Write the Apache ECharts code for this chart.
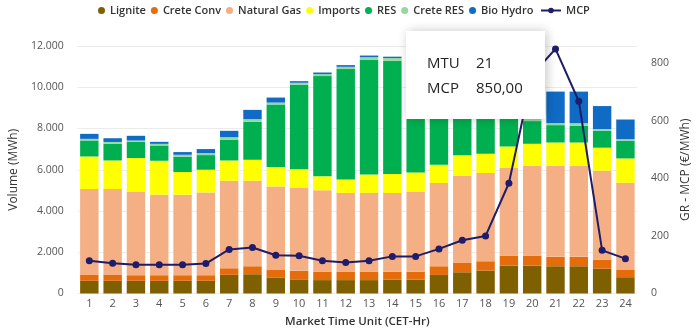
<!DOCTYPE html>
<html>
<head>
<meta charset="utf-8">
<script src="https://cdn.jsdelivr.net/npm/echarts@6/dist/echarts.min.js"></script>
<style>
html,body{margin:0;padding:0;background:#fff;}
#chart{width:700px;height:333px;}
</style>
</head>
<body>
<div id="chart"></div>
<script>
// ---- data ----
const categories = ['1','2','3','4','5','6','7','8','9','10','11','12','13','14','15','16','17','18','19','20','21','22','23','24'];
const lignite    = [615, 615, 615, 615, 615, 615, 905, 934, 760, 660, 650, 650, 650, 670, 677, 900, 1030, 1113, 1355, 1355, 1321, 1321, 1200, 790];
const creteConv  = [305, 305, 271, 271, 271, 271, 319, 387, 402, 440, 406, 406, 406, 380, 373, 420, 450, 450, 484, 484, 455, 455, 436, 353];
const naturalGas = [4147, 4147, 4065, 3905, 3905, 4016, 4244, 4147, 4031, 4036, 3949, 3823, 3823, 3823, 3900, 4036, 4225, 4278, 4244, 4355, 4418, 4418, 4321, 4225];
const imports    = [1577, 1384, 1616, 1645, 1098, 1098, 982, 1016, 939, 886, 677, 644, 886, 919, 919, 886, 1002, 934, 1045, 1065, 1128, 1128, 1113, 1181];
const res        = [774, 808, 789, 740, 740, 711, 1002, 1839, 3029, 4099, 4858, 5357, 5565, 5497, 5271, 4500, 3500, 2500, 1600, 1100, 842, 808, 823, 852];
const creteRes   = [80, 90, 63, 80, 97, 97, 130, 130, 97, 97, 97, 111, 130, 130, 130, 130, 130, 120, 110, 100, 97, 130, 82, 82];
const bioHydro   = [242, 179, 227, 97, 131, 194, 305, 450, 242, 77, 77, 82, 77, 63, 80, 80, 100, 150, 400, 800, 1529, 1529, 1113, 953];
const mcp        = [114, 105, 100, 100, 100, 104, 153, 160, 133, 131, 114, 108, 114, 129, 129, 155, 185, 200, 383, 760, 850, 668, 150, 121];
const leftTicks  = [0, 2000, 4000, 6000, 8000, 10000, 12000];
const rightTicks = [0, 200, 400, 600, 800];
const tipIndex = 20;

const FONT = "'Open Sans', 'Noto Sans', sans-serif";
const barSeries = [
  ['Lignite', lignite, '#7F6000'],
  ['Crete Conv', creteConv, '#E46C0A'],
  ['Natural Gas', naturalGas, '#F4AF84'],
  ['Imports', imports, '#FFFF00'],
  ['RES', res, '#00B050'],
  ['Crete RES', creteRes, '#92D8A0'],
  ['Bio Hydro', bioHydro, '#0F6BC4']
];

function dotThousands(v){ return String(v).replace(/\B(?=(\d{3})+(?!\d))/g, '.'); }

const series = barSeries.map(function(s){
  return {
    name: s[0], type: 'bar', stack: 'vol', data: s[1],
    itemStyle: {color: s[2]}, barCategoryGap: '21%', z: 2
  };
});
series.push({
  name: 'MCP', type: 'line', yAxisIndex: 1, data: mcp,
  symbol: 'circle', symbolSize: 7,
  lineStyle: {color: '#1F1D6B', width: 2},
  itemStyle: {color: '#1F1D6B'}, z: 5
});

const chart = echarts.init(document.getElementById('chart'), null, {renderer: 'canvas'});
const tipFont = '15px ' + FONT;
const legendText = {fontFamily: FONT, fontSize: 11, fontWeight: 600, color: '#333'};
const option = {
  animation: false,
  textStyle: {fontFamily: FONT},
  legend: [{
    data: barSeries.map(function(s){ return {name: s[0], icon: 'circle'}; }),
    left: 93, top: 0, itemWidth: 7, itemHeight: 7, itemGap: 5,
    textStyle: legendText
  }, {
    data: [{name: 'MCP'}],
    left: 535, top: 0, itemWidth: 20, itemHeight: 7,
    textStyle: legendText
  }],
  grid: {left: 70, right: 59, top: 46, bottom: 39.5},
  xAxis: {
    type: 'category', data: categories,
    axisLine: {show: false}, axisTick: {show: false},
    axisLabel: {margin: 5, fontSize: 11, color: '#555', fontFamily: FONT},
    name: 'Market Time Unit (CET-Hr)', nameLocation: 'middle', nameGap: 22,
    nameTextStyle: {fontSize: 11.5, fontWeight: 600, color: '#333', fontFamily: FONT}
  },
  yAxis: [{
    type: 'value', min: leftTicks[0], max: leftTicks[leftTicks.length-1], interval: leftTicks[1]-leftTicks[0],
    axisLine: {show: false}, axisTick: {show: false},
    axisLabel: {margin: 14, fontSize: 10.5, color: '#555', fontFamily: FONT, formatter: dotThousands},
    splitLine: {lineStyle: {color: '#ebebeb', width: 1}},
    name: 'Volume (MWh)', nameLocation: 'middle', nameGap: 52,
    nameTextStyle: {fontSize: 12, color: '#333', fontFamily: FONT}
  }, {
    type: 'value', position: 'right', min: rightTicks[0], max: 860, interval: rightTicks[1]-rightTicks[0],
    axisLine: {show: false}, axisTick: {show: false},
    axisLabel: {margin: 14, fontSize: 10.5, color: '#555', fontFamily: FONT, showMaxLabel: false},
    splitLine: {show: false},
    name: 'GR - MCP (€/MWh)', nameLocation: 'middle', nameGap: 41,
    nameTextStyle: {fontSize: 12, color: '#333', fontFamily: FONT}
  }],
  series: series,
  graphic: [{
    type: 'rect', z: 100, zlevel: 1, shape: {x: 406, y: 31, width: 139, height: 88},
    style: {fill: '#ffffff', shadowBlur: 10, shadowColor: 'rgba(0,0,0,0.22)', shadowOffsetX: 2, shadowOffsetY: 0}
  }, {
    type: 'text', z: 101, zlevel: 1, x: 427, y: 64,
    style: {text: 'MTU', font: tipFont, fill: '#252423', verticalAlign: 'middle'}
  }, {
    type: 'text', z: 101, zlevel: 1, x: 476, y: 64,
    style: {text: categories[tipIndex], font: tipFont, fill: '#252423', verticalAlign: 'middle'}
  }, {
    type: 'text', z: 101, zlevel: 1, x: 427, y: 89,
    style: {text: 'MCP', font: tipFont, fill: '#252423', verticalAlign: 'middle'}
  }, {
    type: 'text', z: 101, zlevel: 1, x: 476, y: 89,
    style: {text: mcp[tipIndex].toFixed(2).replace('.', ','), font: tipFont, fill: '#252423', verticalAlign: 'middle'}
  }]
};
chart.setOption(option);
</script>
</body>
</html>
